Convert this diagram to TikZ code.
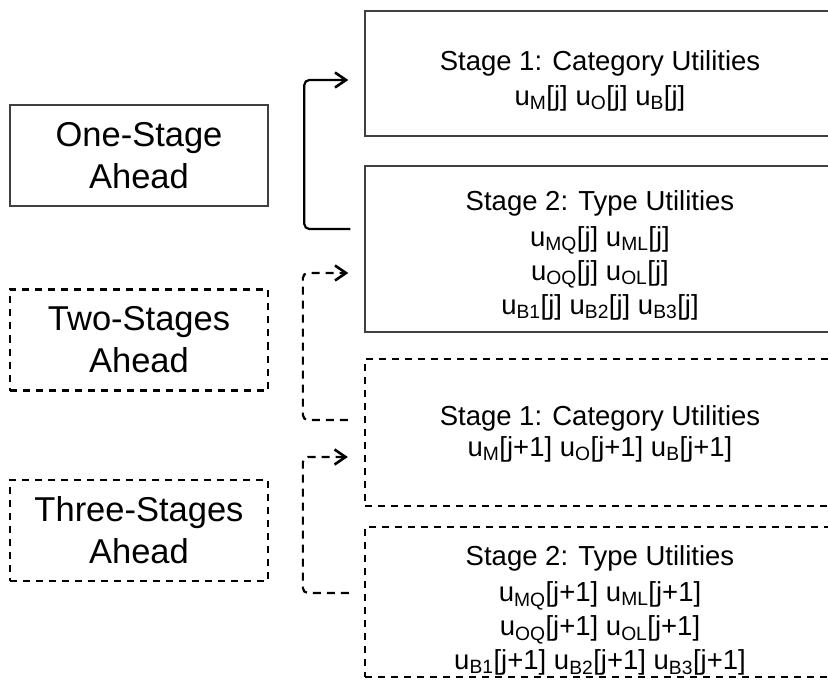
\documentclass[tikz,border=0pt]{standalone}
\usepackage{fontspec}
\setmainfont{Liberation Sans}
\usetikzlibrary{arrows.meta,calc}

\begin{document}
\begin{tikzpicture}[x=1pt,y=-1pt,
    aheadbox/.style={draw=black!75,line width=1.4pt,minimum width=258pt,minimum height=101pt,align=center,inner sep=0pt,font=\fontsize{34.5}{42}\selectfont},
    laterbox/.style={aheadbox,draw=black,line width=2.3pt,dash pattern=on 7pt off 6pt},
    stagebox/.style={draw=black!75,line width=1.4pt,minimum width=470pt,inner sep=0pt},
    laterstage/.style={stagebox,draw=black,line width=2.3pt,dash pattern=on 7pt off 6pt},
    utiltext/.style={anchor=north,align=center,inner sep=0pt,font=\fontsize{27.5}{34}\selectfont},
    link/.style={line width=2.2pt,rounded corners=5pt,-{Straight Barb[length=11pt,width=15pt,line width=2.6pt]}},
    laterlink/.style={link,dash pattern=on 8pt off 6pt}]
    \useasboundingbox (0,0) rectangle (828,687);
    \clip (0,0) rectangle (828,687);

    \node[aheadbox] (oneahead) at (139,155.5) {One-Stage\\Ahead};
    \node[laterbox] (twoahead) at (139,340) {Two-Stages\\Ahead};
    \node[laterbox] (threeahead) at (139,530.5) {Three-Stages\\Ahead};

    \node[stagebox,minimum height=125pt] (s1cat) at (600,73.5) {};
    \node[stagebox,minimum height=166pt] (s2type) at (600,249) {};
    \node[laterstage,minimum height=147pt] (s1next) at (600,432.5) {};
    \node[laterstage,minimum height=150pt] (s2next) at (600,602) {};

    \node[utiltext] (s1cattext) at (600,50) {Stage 1: Category Utilities\\[1pt]
        u\textsubscript{M}[j] u\textsubscript{O}[j] u\textsubscript{B}[j]};
    \node[utiltext] (s2typetext) at (600,190) {Stage 2: Type Utilities\\[2pt]
        u\textsubscript{MQ}[j] u\textsubscript{ML}[j]\\
        u\textsubscript{OQ}[j] u\textsubscript{OL}[j]\\
        u\textsubscript{B1}[j] u\textsubscript{B2}[j] u\textsubscript{B3}[j]};
    \node[utiltext] (s1nexttext) at (600,405) {Stage 1: Category Utilities\\[-3pt]
        u\textsubscript{M}[j+1] u\textsubscript{O}[j+1] u\textsubscript{B}[j+1]};
    \node[utiltext] (s2nexttext) at (600,545) {Stage 2: Type Utilities\\[2pt]
        u\textsubscript{MQ}[j+1] u\textsubscript{ML}[j+1]\\
        u\textsubscript{OQ}[j+1] u\textsubscript{OL}[j+1]\\
        u\textsubscript{B1}[j+1] u\textsubscript{B2}[j+1] u\textsubscript{B3}[j+1]};

    \draw[link] ($(s2type.west)+(-14,-20)$) -- ++(-46,0) |- ($(s1cat.west)+(-16,6.5)$);
    \draw[laterlink] ($(s1next.west)+(-16,-12.5)$) -- ++(-45,0) |- ($(s2type.west)+(-16,24)$);
    \draw[laterlink] ($(s2next.west)+(-15,-9)$) -- ++(-46,0) |- ($(s1next.west)+(-16,24.5)$);
\end{tikzpicture}
\end{document}
